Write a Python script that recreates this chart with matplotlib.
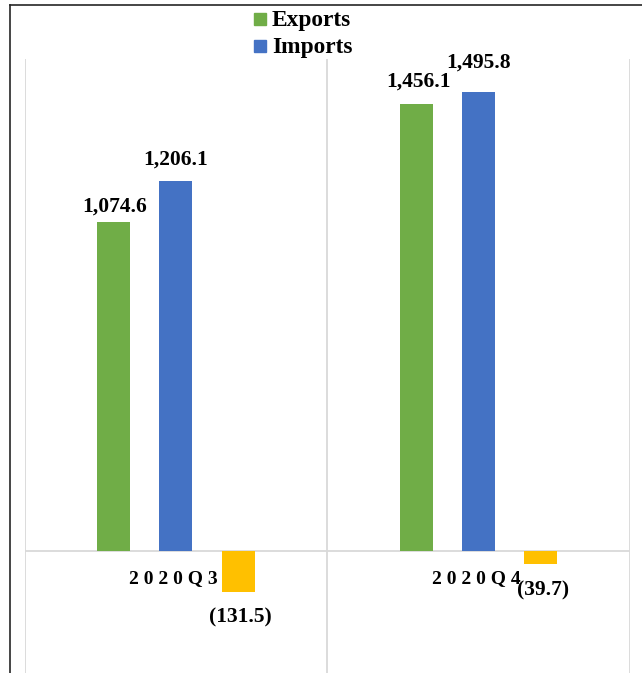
import matplotlib
matplotlib.use("Agg")
import matplotlib.pyplot as plt
from matplotlib.lines import Line2D
from matplotlib.patches import Rectangle
from matplotlib.transforms import offset_copy

# Quarterly trade figures
quarters = ["2 0 2 0 Q 3", "2 0 2 0 Q 4"]
exports = [1074.6, 1456.1]
imports = [1206.1, 1495.8]
balance = [-131.5, -39.7]
series_names = ["Exports", "Imports"]

GREEN = "#70AD47"
BLUE = "#4472C4"
GOLD = "#FFC000"
GRID = "#D9D9D9"

W, H = 642, 673
fig = plt.figure(figsize=(W / 100, H / 100), dpi=100)

def fx(px):
    return px / W

def fy(py):
    return 1 - py / H

# axes placed by pixel edges: left 24.5, right 630, top 59, bottom 673
ax = fig.add_axes([fx(24.5), fy(673), fx(630) - fx(24.5), fy(59) - fy(673)])
ax.set_xlim(-0.5, 1.5)
ax.set_ylim(-396, 1604)
for s in ax.spines.values():
    s.set_visible(False)
ax.set_xticks([])
ax.set_yticks([])

# category separators and zero line
for xv in (-0.5, 0.5, 1.5):
    ax.axvline(xv, color=GRID, lw=1.3, zorder=0)
ax.axhline(0, color=GRID, lw=1.3, zorder=0)

bw = 0.109
off = 0.206
xs = list(range(len(quarters)))
ax.bar([x - off for x in xs], exports, width=bw, color=GREEN, zorder=2)
ax.bar(xs, imports, width=bw, color=BLUE, zorder=2)
ax.bar([x + off for x in xs], balance, width=bw, color=GOLD, zorder=2)

font = dict(family="Liberation Serif", weight="bold")

def fmt(v):
    return f"({abs(v):,.1f})" if v < 0 else f"{v:,.1f}"

def label(x, v, dx, dy, size=15.5):
    tr = offset_copy(ax.transData, fig=fig, x=dx, y=dy, units="dots")
    ax.text(x, v, fmt(v), transform=tr, ha="center", va="center",
            fontsize=size, **font)

# value labels (pixel offsets from the bar end)
exp_off = [(1.5, 15), (2.5, 23)]
imp_off = [(-0.5, 22), (0, 30)]
bal_off = [(2, -26), (2, -27)]
for i, x in enumerate(xs):
    label(x - off, exports[i], *exp_off[i])
    label(x, imports[i], *imp_off[i])
    label(x + off, balance[i], *bal_off[i])

# category names just below the zero line
for i, x in enumerate(xs):
    tr = offset_copy(ax.transData, fig=fig, x=-2.5, y=-27.5, units="dots")
    ax.text(x, 0, quarters[i], transform=tr, ha="center", va="center",
            fontsize=14, **font)

# legend
for name, col, y0 in zip(series_names, [GREEN, BLUE], [13, 40]):
    fig.patches.append(Rectangle((fx(254), fy(y0 + 12)), fx(12), fy(0) - fy(12),
                                 transform=fig.transFigure, color=col))
    fig.text(fx(272), fy(y0 + 13), name, ha="left", va="baseline",
             fontsize=16.8, **font)

# outer frame (left and top edges)
fig.add_artist(Line2D([fx(10), fx(10)], [fy(4.5), 0], color="#262626", lw=1.2,
                      transform=fig.transFigure))
fig.add_artist(Line2D([fx(10), 1], [fy(4.5), fy(4.5)], color="#262626", lw=1.2,
                      transform=fig.transFigure))

fig.savefig("out.png", dpi=100)
